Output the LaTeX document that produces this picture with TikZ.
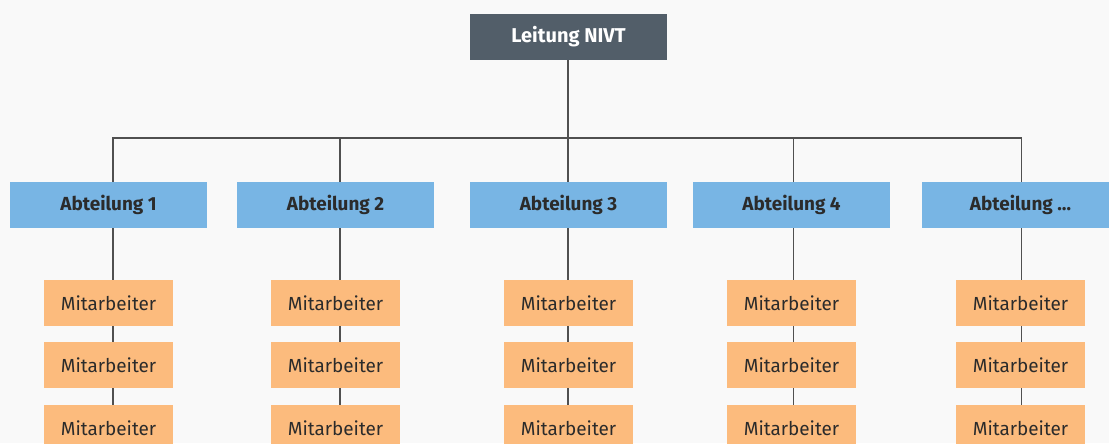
\documentclass[tikz,border=0pt]{standalone}
\usepackage{fontspec}
\setmainfont{Fira Sans}
\definecolor{bg}{HTML}{F9F9F9}
\definecolor{topc}{HTML}{525E69}
\definecolor{abtc}{HTML}{78B5E4}
\definecolor{mitc}{HTML}{FCBB7D}
\definecolor{linec}{HTML}{505050}
\definecolor{txtc}{HTML}{2B2B2B}
\begin{document}
\begin{tikzpicture}[x=0.75pt,y=-0.75pt,
  leitbox/.style={fill=topc,text=white,font=\fontsize{15}{18}\selectfont\bfseries,minimum width=147.75pt,minimum height=34.5pt,inner sep=0pt},
  abtbox/.style={fill=abtc,text=txtc,font=\fontsize{14.2}{17}\selectfont\bfseries,minimum width=147.75pt,minimum height=34.5pt,inner sep=0pt},
  mitbox/.style={fill=mitc,text=txtc,font=\fontsize{14.2}{17}\selectfont,minimum width=96.75pt,minimum height=34.5pt,inner sep=0pt},
  conn/.style={draw=linec,line width=1.1pt}]
\fill[bg] (0,0) rectangle (1109,443);
\useasboundingbox (0,0) rectangle (1109,443);
\node[leitbox] (top) at (568.5,37) {Leitung NIVT};
\coordinate (bus) at (568,138);
\foreach \i/\bx/\lx/\lab in {1/108.5/113/Abteilung 1,2/335.5/340/Abteilung 2,3/568.5/568/Abteilung 3,4/791.5/793.5/Abteilung 4,5/1020.5/1021.5/Abteilung \dots}{
  \coordinate (L\i) at (\lx,138);
  \node[abtbox] (a\i) at (\bx,205) {\lab};
  \node[mitbox] (m\i1) at (\bx,303) {Mitarbeiter};
  \node[mitbox] (m\i2) at (\bx,365) {Mitarbeiter};
  \node[mitbox] (m\i3) at (\bx,428) {Mitarbeiter};
  \draw[conn] (L\i) -- (L\i |- a\i.north);
  \draw[conn] (a\i.south -| L\i) -- (m\i1.north -| L\i);
  \draw[conn] (m\i1.south -| L\i) -- (m\i2.north -| L\i);
  \draw[conn] (m\i2.south -| L\i) -- (m\i3.north -| L\i);
}
\draw[conn] (top.south -| bus) -- (bus);
\draw[conn] ([xshift=-0.5pt]L1) -- ([xshift=0.5pt]L5);
\end{tikzpicture}
\end{document}
